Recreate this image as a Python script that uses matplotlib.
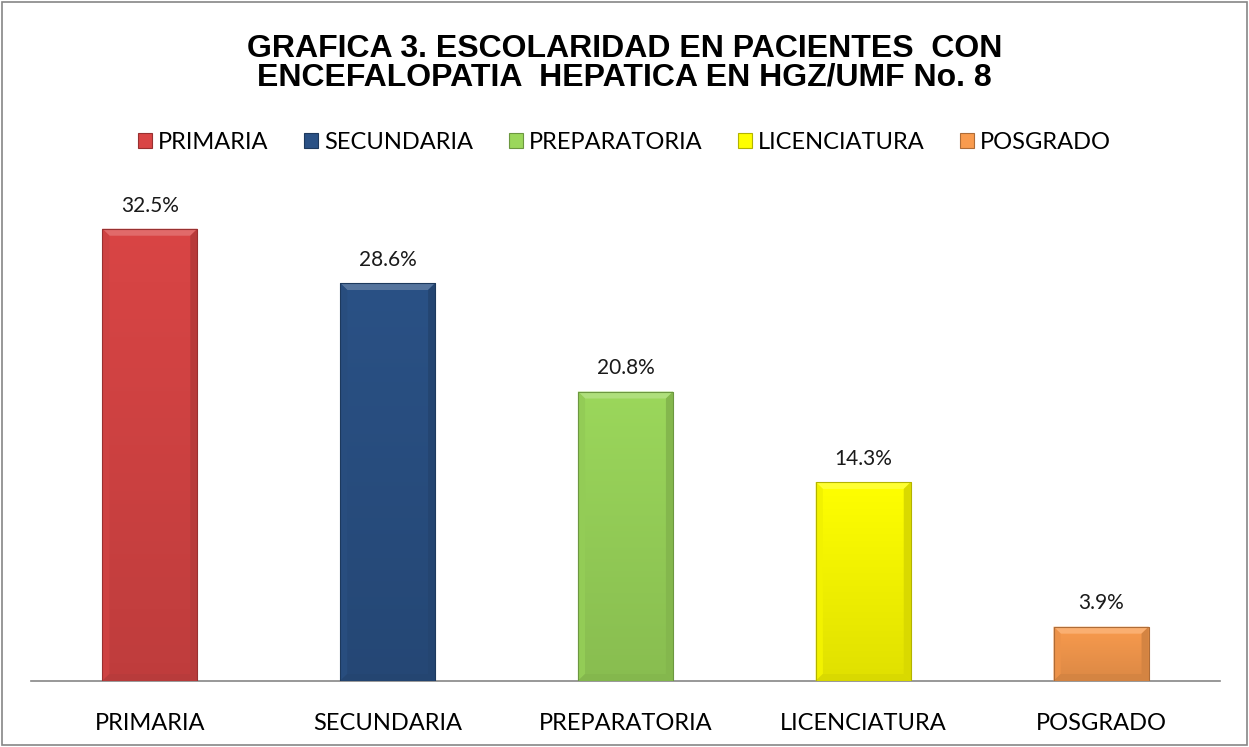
import numpy as np
import matplotlib.pyplot as plt
from matplotlib.patches import Rectangle, Polygon
from matplotlib.colors import to_rgb

# --- datos ---
categorias = ["PRIMARIA", "SECUNDARIA", "PREPARATORIA", "LICENCIATURA", "POSGRADO"]
porcentajes = [32.5, 28.6, 20.8, 14.3, 3.9]
colores = ["#D94545", "#2A5185", "#9BD75B", "#FFFF00", "#F99B4E"]
titulo = "GRAFICA 3. ESCOLARIDAD EN PACIENTES  CON\nENCEFALOPATIA  HEPATICA EN HGZ/UMF No. 8"

FUENTE = ["Lato", "DejaVu Sans"]


def mezcla(c, otro, t):
    c = np.array(to_rgb(c))
    o = np.array(to_rgb(otro))
    return tuple(c * (1 - t) + o * t)


fig = plt.figure(figsize=(12.49, 7.47), dpi=100)
ax = fig.add_axes([0.0248, 0.0884, 0.952, 0.6519])

x = np.arange(len(categorias))
ancho = 0.40
barras = ax.bar(x, porcentajes, width=ancho, color=colores, zorder=2)
ax.set_xlim(-0.5, len(categorias) - 0.5)
ax.set_ylim(0, 35)

# efecto bisel sencillo
bx = 0.03    # en unidades de categoria
by = 0.5     # en unidades del eje y
for b, c in zip(barras, colores):
    x0, w, h = b.get_x(), b.get_width(), b.get_height()
    x1 = x0 + w
    # degradado vertical
    grad = np.linspace(0, 1, 100).reshape(-1, 1)
    top = np.array(to_rgb(c))
    bot = np.array(mezcla(c, "black", 0.12))
    img = top * (1 - grad[..., None]) + bot * grad[..., None]
    img = img.reshape(100, 1, 3)
    im = ax.imshow(img, extent=[x0, x1, 0, h], aspect="auto", origin="upper", zorder=3)
    im.set_clip_path(b)
    # bisel superior claro
    ax.add_patch(Polygon([(x0, h), (x1, h), (x1 - bx, h - by), (x0 + bx, h - by)],
                         closed=True, color=mezcla(c, "white", 0.2), lw=0, zorder=4))
    # laterales
    ax.add_patch(Polygon([(x0, h), (x0 + bx, h - by), (x0 + bx, by), (x0, 0)],
                         closed=True, color=mezcla(c, "black", 0.05), lw=0, zorder=4))
    ax.add_patch(Polygon([(x1, h), (x1 - bx, h - by), (x1 - bx, by), (x1, 0)],
                         closed=True, color=mezcla(c, "black", 0.15), lw=0, zorder=4))
    ax.add_patch(Polygon([(x0, 0), (x0 + bx, by), (x1 - bx, by), (x1, 0)],
                         closed=True, color=mezcla(c, "black", 0.15), lw=0, zorder=4))
    ax.add_patch(Rectangle((x0, 0), w, h, fill=False, ec=mezcla(c, "black", 0.3), lw=0.8, zorder=5))
    ax.text(b.get_x() + w / 2, h + 0.95, f"{h:.1f}%", ha="center", va="bottom",
            fontsize=15, family=FUENTE, color="#1a1a1a")

for s in ["top", "right", "left"]:
    ax.spines[s].set_visible(False)
ax.spines["bottom"].set_color("#868686")
ax.spines["bottom"].set_linewidth(1.2)
ax.set_yticks([])
ax.set_xticks(x)
ax.set_xticklabels(categorias, fontsize=17, family=FUENTE)
ax.tick_params(axis="x", length=0, pad=23)

# leyenda
manejadores = [Rectangle((0, 0), 1, 1, fc=c, ec=mezcla(c, "black", 0.3), lw=0.8) for c in colores]
fig.legend(manejadores, categorias, loc="center", bbox_to_anchor=(0.5, 0.809), ncol=5,
           frameon=False, prop={"family": FUENTE, "size": 17}, handlelength=0.6,
           handleheight=0.6, handletextpad=0.25, columnspacing=1.5)

fig.text(0.5, 0.915, titulo, ha="center", va="center", fontsize=23, fontweight="bold",
         family=["Liberation Sans", "DejaVu Sans"], linespacing=0.95)

# borde exterior
fig.patches.append(Rectangle((0.002, 0.003), 0.996, 0.994, transform=fig.transFigure,
                             fill=False, ec="#868686", lw=1.2))

fig.savefig("out.png", dpi=100)
